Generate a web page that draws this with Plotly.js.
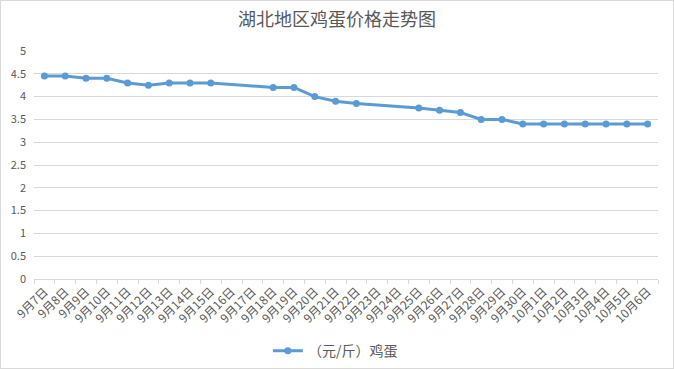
<!DOCTYPE html>
<html><head><meta charset="utf-8">
<script src="https://cdn.plot.ly/plotly-3.0.1.min.js"></script>
<style>
html,body{margin:0;padding:0;background:#fff;}
#wrap{width:672px;height:367px;border:1px solid #d9d9d9;}
#chart{width:672px;height:367px;}
</style></head>
<body><div id="wrap"><div id="chart"></div></div>
<script>
const dates = ["9月7日","9月8日","9月9日","9月10日","9月11日","9月12日","9月13日","9月14日","9月15日","9月16日","9月17日","9月18日","9月19日","9月20日","9月21日","9月22日","9月23日","9月24日","9月25日","9月26日","9月27日","9月28日","9月29日","9月30日","10月1日","10月2日","10月3日","10月4日","10月5日","10月6日"];
const prices = [4.45,4.45,4.4,4.4,4.3,4.25,4.3,4.3,4.3,null,null,4.2,4.2,4.0,3.9,3.85,null,null,3.75,3.7,3.65,3.5,3.5,3.4,3.4,3.4,3.4,3.4,3.4,3.4];
const seriesName = "（元/斤）鸡蛋";
const titleText = "湖北地区鸡蛋价格走势图";
const yTicks = [0,0.5,1,1.5,2,2.5,3,3.5,4,4.5,5];

const fontFam = '"Noto Sans CJK SC", "Noto Sans", sans-serif';
const trace = {
  type:'scatter', mode:'lines+markers', x:dates, y:prices, name:seriesName,
  connectgaps:true,
  line:{color:'#5B9BD5', width:3},
  marker:{color:'#5B9BD5', size:7},
  showlegend:true
};
const layout = {
  width:672, height:367,
  margin:{l:33, r:15, t:50, b:89},
  paper_bgcolor:'#fff', plot_bgcolor:'#fff',
  font:{family:fontFam, color:'#595959', size:10},
  title:{text:titleText, font:{family:fontFam, size:18, color:'#595959'}, x:0.5, xanchor:'center', y:0.967, yanchor:'top'},
  xaxis:{type:'category', tickangle:-45, ticks:'outside', ticklen:4, tickcolor:'#d9d9d9', automargin:false,
    tickson:'boundaries', showline:true, linecolor:'#d9d9d9', linewidth:1, showgrid:false,
    tickfont:{size:12, color:'#595959'}, range:[-0.5, dates.length-0.5], fixedrange:true},
  yaxis:{range:[0,5], tickvals:yTicks, ticktext:yTicks.map(String), showgrid:true, gridcolor:'#d9d9d9', automargin:false,
    zeroline:false, showline:false, ticks:'', ticklabelstandoff:7, tickfont:{size:11, color:'#595959'}, fixedrange:true},
  legend:{orientation:'h', x:0.483, xanchor:'center', yref:'container', y:0.046, yanchor:'middle', itemwidth:30, font:{size:14, color:'#595959'}},
  showlegend:true
};
Plotly.newPlot('chart',[trace],layout,{displayModeBar:false, staticPlot:true});
</script></body></html>
